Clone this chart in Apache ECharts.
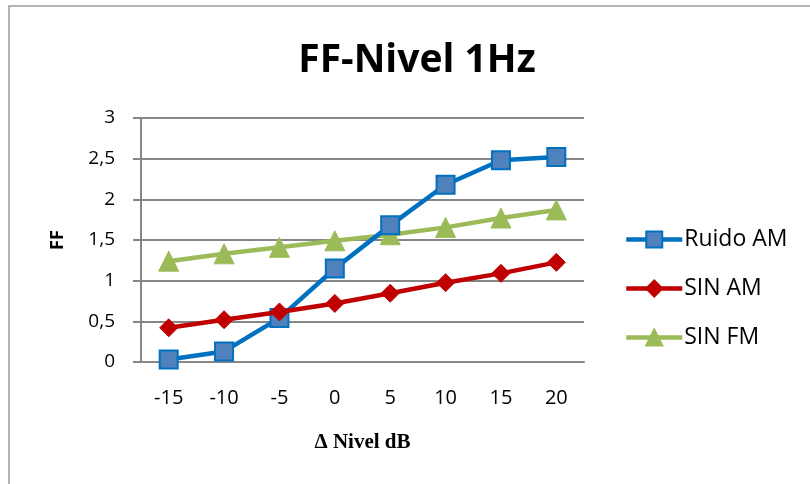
<!DOCTYPE html>
<html>
<head>
<meta charset="utf-8">
<script src="https://cdn.jsdelivr.net/npm/echarts@6/dist/echarts.min.js"></script>
<style>
  html, body { margin: 0; padding: 0; background: #ffffff; }
  #chart { width: 810px; height: 484px; }
</style>
</head>
<body>
<div id="chart"></div>
<script>
// Level steps (dB) along the x axis
const categories = ['-15', '-10', '-5', '0', '5', '10', '15', '20'];

// FF values per series
const ruidoAM = [0.03, 0.13, 0.54, 1.15, 1.68, 2.18, 2.48, 2.52];
const sinAM   = [0.42, 0.52, 0.615, 0.72, 0.845, 0.975, 1.09, 1.225];
const sinFM   = [1.24, 1.33, 1.41, 1.49, 1.565, 1.655, 1.77, 1.87];

const seriesNames = ['Ruido AM', 'SIN AM', 'SIN FM'];

const font = '"Open Sans", sans-serif';
const gridColor = '#868686';

const chart = echarts.init(document.getElementById('chart'), null, { renderer: 'canvas' });

chart.setOption({
  animation: false,
  backgroundColor: '#ffffff',
  title: {
    text: 'FF-Nivel 1Hz',
    left: 412,
    textAlign: 'center',
    top: 36,
    textStyle: { fontFamily: font, fontWeight: 'bold', fontSize: 39, color: '#000000' }
  },
  graphic: [{
    type: 'rect',
    shape: { x: 9, y: 6, width: 820, height: 500 },
    style: { fill: 'none', stroke: '#9a9a9a', lineWidth: 1.5 },
    silent: true
  }],
  legend: {
    orient: 'vertical',
    left: 624,
    top: 228,
    padding: 0,
    itemWidth: 56,
    itemHeight: 20,
    itemGap: 26,
    data: seriesNames,
    lineStyle: { width: 4.5 },
    textStyle: { fontFamily: font, fontSize: 23, color: '#000000', padding: [0, 0, 0, -3] }
  },
  grid: { left: 141, right: 226, top: 118, bottom: 122, containLabel: false },
  xAxis: {
    type: 'category',
    data: categories,
    boundaryGap: true,
    name: 'Δ Nivel dB',
    nameLocation: 'middle',
    nameGap: 70,
    nameTextStyle: { fontFamily: '"Liberation Serif", serif', fontWeight: 'bold', fontSize: 21, color: '#000000' },
    axisLine: { lineStyle: { color: gridColor, width: 2 } },
    axisTick: { show: false },
    axisLabel: { fontFamily: font, fontSize: 20, color: '#000000', margin: 26 }
  },
  yAxis: {
    type: 'value',
    min: 0,
    max: 3,
    interval: 0.5,
    name: 'FF',
    nameLocation: 'middle',
    nameGap: 74,
    nameMoveOverlap: false,
    nameRotate: 90,
    nameTextStyle: { fontFamily: font, fontWeight: 'bold', fontSize: 18, color: '#000000' },
    axisLine: { show: true, lineStyle: { color: gridColor, width: 2 } },
    axisTick: { show: true, length: 8, lineStyle: { color: gridColor, width: 2 } },
    axisLabel: {
      fontFamily: font, fontSize: 19, color: '#000000', margin: 26,
      formatter: v => String(v).replace('.', ',')
    },
    splitLine: { lineStyle: { color: gridColor, width: 2 } }
  },
  series: [
    {
      name: 'Ruido AM',
      type: 'line',
      data: ruidoAM,
      symbol: 'rect',
      symbolSize: 18,
      z: 3,
      lineStyle: { color: '#0070C0', width: 4.5 },
      itemStyle: { color: '#4F81BD', borderColor: '#0070C0', borderWidth: 2 }
    },
    {
      name: 'SIN AM',
      type: 'line',
      data: sinAM,
      symbol: 'diamond',
      symbolSize: 18,
      z: 4,
      lineStyle: { color: '#C00000', width: 4.5 },
      itemStyle: { color: '#C00000', borderColor: '#C00000', borderWidth: 1 }
    },
    {
      name: 'SIN FM',
      type: 'line',
      data: sinFM,
      symbol: 'triangle',
      symbolSize: 20,
      z: 2,
      lineStyle: { color: '#9BBB59', width: 4.5 },
      itemStyle: { color: '#9BBB59', borderColor: '#9BBB59', borderWidth: 1 }
    }
  ]
});
</script>
</body>
</html>
